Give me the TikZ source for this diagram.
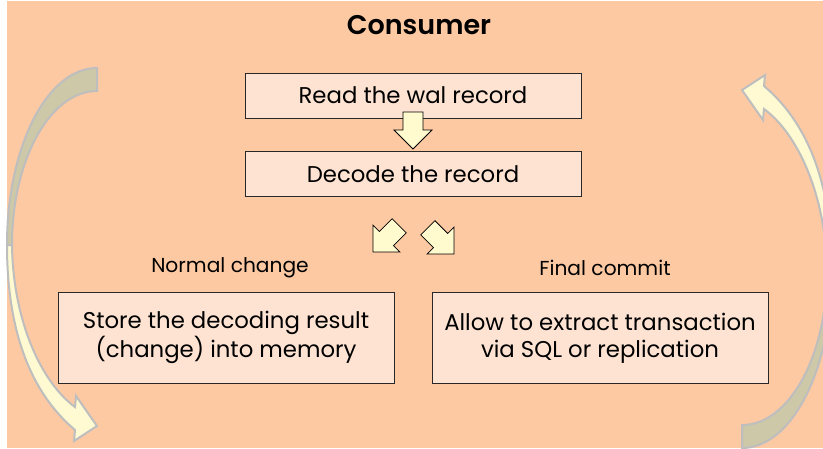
\documentclass[tikz,border=0pt]{standalone}
\usepackage{fontspec}
\setmainfont{Poppins}
\newfontfamily\headfont{Poppins SemiBold}
\definecolor{peach}{RGB}{252,201,163}
\definecolor{boxfill}{RGB}{254,227,210}
\definecolor{boxline}{RGB}{40,40,40}
\definecolor{arrowfill}{RGB}{255,251,206}
\definecolor{loopfront}{RGB}{255,250,210}
\definecolor{loopback}{RGB}{205,200,168}
\definecolor{loopline}{RGB}{190,190,190}
\tikzset{
  box/.style={draw=boxline, fill=boxfill, line width=0.9pt,
    minimum width=336pt, minimum height=45pt, inner sep=0pt,
    align=center, font=\fontsize{22.8}{27}\selectfont},
  caption/.style={inner sep=0pt, font=\fontsize{20.2}{24}\selectfont},
  heading/.style={inner sep=0pt, font=\headfont\fontsize{27}{30}\selectfont},
  arrowbody/.style={draw=black, fill=arrowfill, line width=0.8pt},
  blockarrow/.pic={
    \path[arrowbody] (0,0) -- (-19,-19) -- (-10,-19) -- (-10,-37)
      -- (10,-37) -- (10,-19) -- (19,-19) -- cycle;
  },
  loopedge/.style={draw=loopline, line width=2pt},
  looparrow/.pic={
    % back face, from the tail down to the narrow twist
    \path[loopedge, fill=loopback]
      (97,68) .. controls (47,68) and (7,147) .. (7,245)
      -- (12,245) .. controls (12,160) and (50,91) .. (97,91) -- cycle;
    % front face, from the twist to the head
    \path[loopedge, fill=loopfront]
      (7,245) .. controls (7,330) and (30,392) .. (75,430)
      -- (74,441) -- (97,426) -- (76,396) -- (75,407)
      .. controls (42,383) and (13,322) .. (12,245) -- cycle;
  }
}
\begin{document}
\begin{tikzpicture}[x=1pt,y=-1pt]
  \useasboundingbox (0,0) rectangle (823,448);
  \fill[white] (0,0) rectangle (823,448);
  \fill[peach] (7,1) rectangle (823,448);

  % circular flow arrows on both sides
  \pic at (0,0) {looparrow};
  \begin{scope}[rotate around={180:(419.5,258)}]
    \pic[transform shape] at (0,0) {looparrow};
  \end{scope}

  \node[heading] (title) at (419,25) {Consumer};

  \node[box] (read) at (413,95.5) {Read the wal record};
  \node[box] (decode) at (413,174) {Decode the record};

  \node[caption] (normal) at (230,268) {Normal change};
  \node[caption] (final) at (605,268) {Final commit};

  \node[box, minimum height=91pt] (store) at (226,337.5)
    {Store the decoding result\\(change) into memory};
  \node[box, minimum height=91pt] (extract) at (600,338)
    {Allow to extract transaction\\via SQL or replication};

  % block arrows between the steps
  \path (decode.north) ++(0,-2) pic {blockarrow};
  \path (decode.south) ++(-40,55) pic[rotate=-45] {blockarrow};
  \path (decode.south) ++(41,57) pic[rotate=45] {blockarrow};
\end{tikzpicture}
\end{document}
